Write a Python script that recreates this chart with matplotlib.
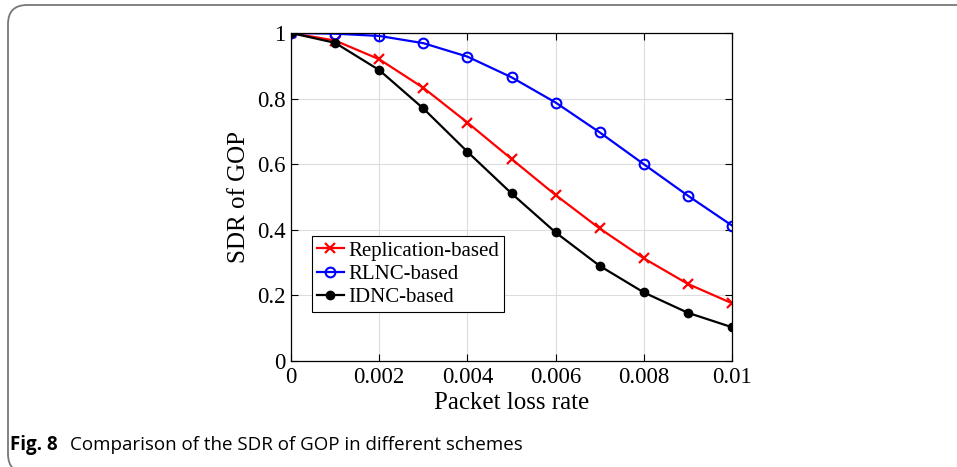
import matplotlib.pyplot as plt
from matplotlib.patches import FancyBboxPatch

# packet loss rate on the x axis
loss_rate = [0, 0.001, 0.002, 0.003, 0.004, 0.005, 0.006, 0.007, 0.008, 0.009, 0.01]

# SDR of GOP for each scheme
sdr_replication = [1.0, 0.977, 0.920, 0.833, 0.727, 0.616, 0.506, 0.404, 0.313, 0.235, 0.176]
sdr_rlnc = [1.0, 0.998, 0.991, 0.969, 0.928, 0.865, 0.788, 0.697, 0.600, 0.504, 0.413]
sdr_idnc = [1.0, 0.970, 0.887, 0.770, 0.638, 0.511, 0.392, 0.290, 0.209, 0.147, 0.103]

xtick_vals = [0, 0.002, 0.004, 0.006, 0.008, 0.01]
xtick_labels = ['0', '0.002', '0.004', '0.006', '0.008', '0.01']
ytick_vals = [0, 0.2, 0.4, 0.6, 0.8, 1.0]
ytick_labels = ['0', '0.2', '0.4', '0.6', '0.8', '1']

serif = 'Liberation Serif'

fig = plt.figure(figsize=(9.57, 4.67), dpi=100)

# rounded frame around the figure and caption
frame = FancyBboxPatch((8 / 957, -6 / 467), 980 / 957, 468 / 467,
                       boxstyle='round,pad=0,rounding_size=0.02',
                       transform=fig.transFigure, facecolor='none',
                       edgecolor='#777777', linewidth=1.3, mutation_aspect=2.05)
fig.patches.append(frame)

ax = fig.add_axes([291 / 957, 1 - 361 / 467, 441 / 957, 328 / 467])

ax.plot(loss_rate, sdr_replication, color='red', lw=1.6, marker='x', ms=7, mew=1.6,
        label='Replication-based')
ax.plot(loss_rate, sdr_rlnc, color='blue', lw=1.6, marker='o', ms=7, mew=1.5,
        mfc='none', label='RLNC-based')
ax.plot(loss_rate, sdr_idnc, color='black', lw=1.6, marker='o', ms=6,
        label='IDNC-based')

ax.set_xlim(0, 0.01)
ax.set_ylim(0, 1)
ax.set_xticks(xtick_vals)
ax.set_xticklabels(xtick_labels)
ax.set_yticks(ytick_vals)
ax.set_yticklabels(ytick_labels)
ax.tick_params(direction='in', top=True, right=True, length=5, width=0.8,
               labelsize=16.5, pad=4)
for lbl in ax.get_xticklabels() + ax.get_yticklabels():
    lbl.set_fontfamily(serif)

ax.grid(True, color='#dddddd', lw=0.8)
ax.set_axisbelow(True)
for sp in ax.spines.values():
    sp.set_linewidth(0.9)

ax.set_xlabel('Packet loss rate', fontfamily=serif, fontsize=18, labelpad=3)
ax.set_ylabel('SDR of GOP', fontfamily=serif, fontsize=18, labelpad=5)

leg = ax.legend(loc='lower left', bbox_to_anchor=(0.047, 0.148), borderaxespad=0,
                prop={'family': serif, 'size': 15}, handlelength=1.3,
                handletextpad=0.2, labelspacing=0.18, borderpad=0.25,
                fancybox=False, framealpha=1, edgecolor='black')
leg.get_frame().set_linewidth(0.8)

# caption below the plot
fig.text(10 / 957, 1 - 445 / 467, 'Fig. 8', fontfamily='Open Sans', fontweight='bold',
         fontsize=13.5, va='center', ha='left')
fig.text(70 / 957, 1 - 445 / 467, 'Comparison of the SDR of GOP in different schemes',
         fontfamily='Open Sans', fontsize=13.5, va='center', ha='left')

fig.savefig('out.png', dpi=100)
